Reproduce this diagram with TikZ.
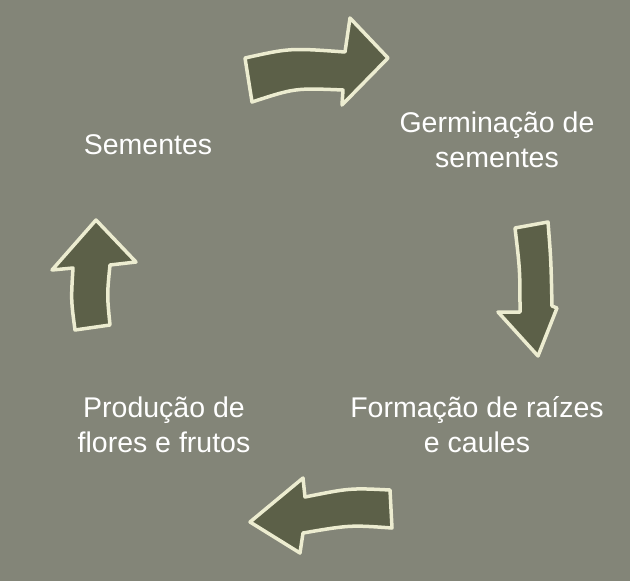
\documentclass[tikz,border=0pt]{standalone}
\usepackage{fontspec}
\setmainfont{Liberation Sans}
\definecolor{bg}{RGB}{131,133,120}
\definecolor{arrfill}{RGB}{92,96,72}
\definecolor{arrline}{RGB}{236,236,208}
\begin{document}
\begin{tikzpicture}[x=1pt,y=-1pt,
  blk/.style={fill=arrfill,draw=arrline,line width=3.5pt,line join=round},
  lbl/.style={text=white,font=\fontsize{28.5}{35}\selectfont,align=center}]
\fill[bg] (0,0) rectangle (630,581);
\useasboundingbox (0,0) rectangle (630,581);
\draw[blk] (245,58) .. controls (290,48) .. (345,52) -- (350,18) -- (388,58) -- (342,105) -- (343,90) .. controls (295,88) .. (252,102) -- cycle;
\draw[blk] (515,228) -- (548,222) .. controls (551,260) .. (552,306) -- (557,308) -- (538,356) -- (498,312) -- (520,312) .. controls (520,270) .. (515,228) -- cycle;
\draw[blk] (390,490) .. controls (350,488) .. (305,497) -- (303,478) -- (250,522) -- (300,553) -- (303,533) .. controls (350,525) .. (392,528) -- cycle;
\draw[blk] (75,330) .. controls (71,300) .. (73,268) -- (52,270) -- (96,220) -- (136,262) -- (110,265) .. controls (107,295) .. (110,325) -- cycle;
\node[lbl] (s) at (148,145) {Sementes};
\node[lbl] (g) at (497,140) {Germinação de\\sementes};
\node[lbl] (f) at (477,425) {Formação de raízes\\e caules};
\node[lbl] (p) at (164,425) {Produção de\\flores e frutos};
\end{tikzpicture}
\end{document}
